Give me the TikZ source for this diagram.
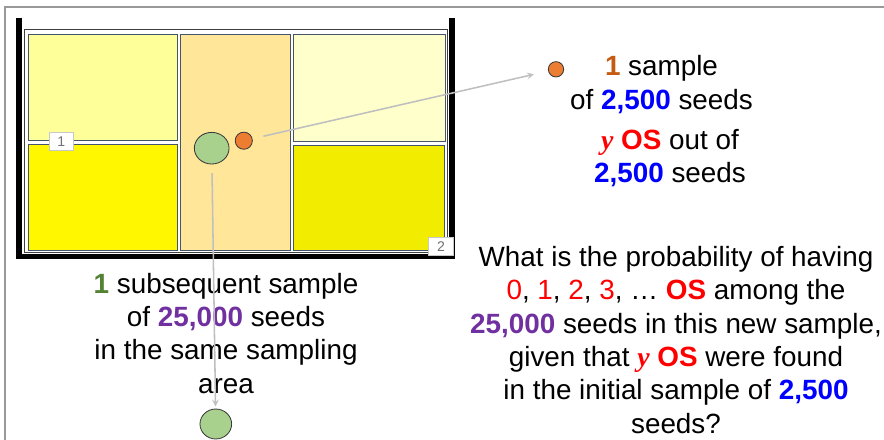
\documentclass[tikz,border=0pt]{standalone}
\usepackage{fontspec}
\setmainfont{Liberation Sans}
\newfontfamily\serifface{Liberation Serif}
\usetikzlibrary{shapes.geometric}

\begin{document}
\begin{tikzpicture}[x=0.025cm, y=-0.025cm, frame/.style={line width=0.7pt, ssFrame}, cell/.style={line width=0.6pt, draw=ssSlate}, wall/.style={line width=3.9pt, black}, link/.style={->, >=stealth, line width=1.1pt, ssGrey}, seed/.style={circle, draw=ssEdge, line width=0.6pt, inner sep=0pt}, tag/.style={draw=ssTag, fill=white, line width=0.5pt, text=ssTagText, font=\fontsize{10}{12}\selectfont, minimum width=17.3pt, minimum height=12.4pt, inner sep=0pt}, say/.style={align=center, font=\fontsize{19.8}{23.7}\selectfont, inner sep=0pt, anchor=base}]
\definecolor{ssFrame}{HTML}{3F3F3F}
\definecolor{ssSlate}{HTML}{44546A}
\definecolor{ssGrey}{HTML}{BFBFBF}
\definecolor{ssEdge}{HTML}{3A3A3A}
\definecolor{ssTag}{HTML}{C8C8C8}
\definecolor{ssTagText}{HTML}{707070}
\definecolor{ssPale}{HTML}{FFFF99}
\definecolor{ssLemon}{HTML}{FFF700}
\definecolor{ssCream}{HTML}{FFFFCC}
\definecolor{ssOlive}{HTML}{F2EC00}
\definecolor{ssPeach}{HTML}{FFE699}
\definecolor{ssOrange}{HTML}{ED7D31}
\definecolor{ssLeaf}{HTML}{A9D18E}
\definecolor{ssRust}{HTML}{C55A11}
\definecolor{ssBlue}{HTML}{0000FF}
\definecolor{ssRed}{HTML}{FF0000}
\definecolor{ssGreen}{HTML}{548235}
\definecolor{ssPurple}{HTML}{7030A0}
\useasboundingbox (0,0) rectangle (884,440);
% slide edge
\draw[line width=1pt, black!40] (5,440) -- (5,7) -- (884,7);
% sampling area
\draw[frame, fill=white] (24,29.5) rectangle (447.5,252.5);
\filldraw[cell, fill=ssPale] (28.3,34.3) rectangle (177.7,140.7);
\filldraw[cell, fill=ssLemon] (28.3,144) rectangle (177.7,250);
\filldraw[cell, fill=ssPeach] (180.3,34) rectangle (290.7,250);
\filldraw[cell, fill=ssCream] (293,34.3) rectangle (445,141.7);
\filldraw[cell, fill=ssOlive] (293,145) rectangle (444,250);
\draw[wall] (19,18) -- (19,256.5) -- (451.8,256.5) -- (451.8,18);
\node[tag] (tag1) at (61.2,141.2) {1};
\node[tag] (tag2) at (441,246.5) {2};
% samples
\node[seed, ellipse, fill=ssLeaf, minimum width=24.7pt, minimum height=22.5pt] (big) at (211.7,148.2) {};
\node[seed, fill=ssOrange, minimum size=12.2pt] (small) at (243.8,140.7) {};
\node[seed, fill=ssOrange, minimum size=10.9pt] (smallR) at (556,69.3) {};
\node[seed, ellipse, fill=ssLeaf, minimum width=22.5pt, minimum height=21.3pt] (bigB) at (215.8,424) {};
% texts (base = last line)
\node[say] (first) at (661.5,109.3) {\textcolor{ssRust}{\textbf{1}} sample\\of \textcolor{ssBlue}{\textbf{2,500}} seeds};
\node[say] (found) at (670,182.7) {{\serifface\bfseries\itshape\color{ssRed}y} \textcolor{ssRed}{\textbf{OS}} out of\\\textcolor{ssBlue}{\textbf{2,500}} seeds};
\node[say] (next) at (226,393.3) {\textcolor{ssGreen}{\textbf{1}} subsequent sample\\of \textcolor{ssPurple}{\textbf{25,000}} seeds\\in the same sampling\\area};
\node[say] (ask) at (676,433.3) {What is the probability of having\\\textcolor{ssRed}{0}, \textcolor{ssRed}{1}, \textcolor{ssRed}{2}, \textcolor{ssRed}{3}, … \textcolor{ssRed}{\textbf{OS}} among the\\\textcolor{ssPurple}{\textbf{25,000}} seeds in this new sample,\\given that {\serifface\bfseries\itshape\color{ssRed}y} \textcolor{ssRed}{\textbf{OS}} were found\\in the initial sample of \textcolor{ssBlue}{\textbf{2,500}}\\seeds?};
% connectors
\draw[link, shorten <=7.9pt, shorten >=10.4pt] (small) -- (smallR);
\draw[link, shorten <=6.2pt, shorten >=1.6pt] (big) -- (bigB);
\end{tikzpicture}
\end{document}
